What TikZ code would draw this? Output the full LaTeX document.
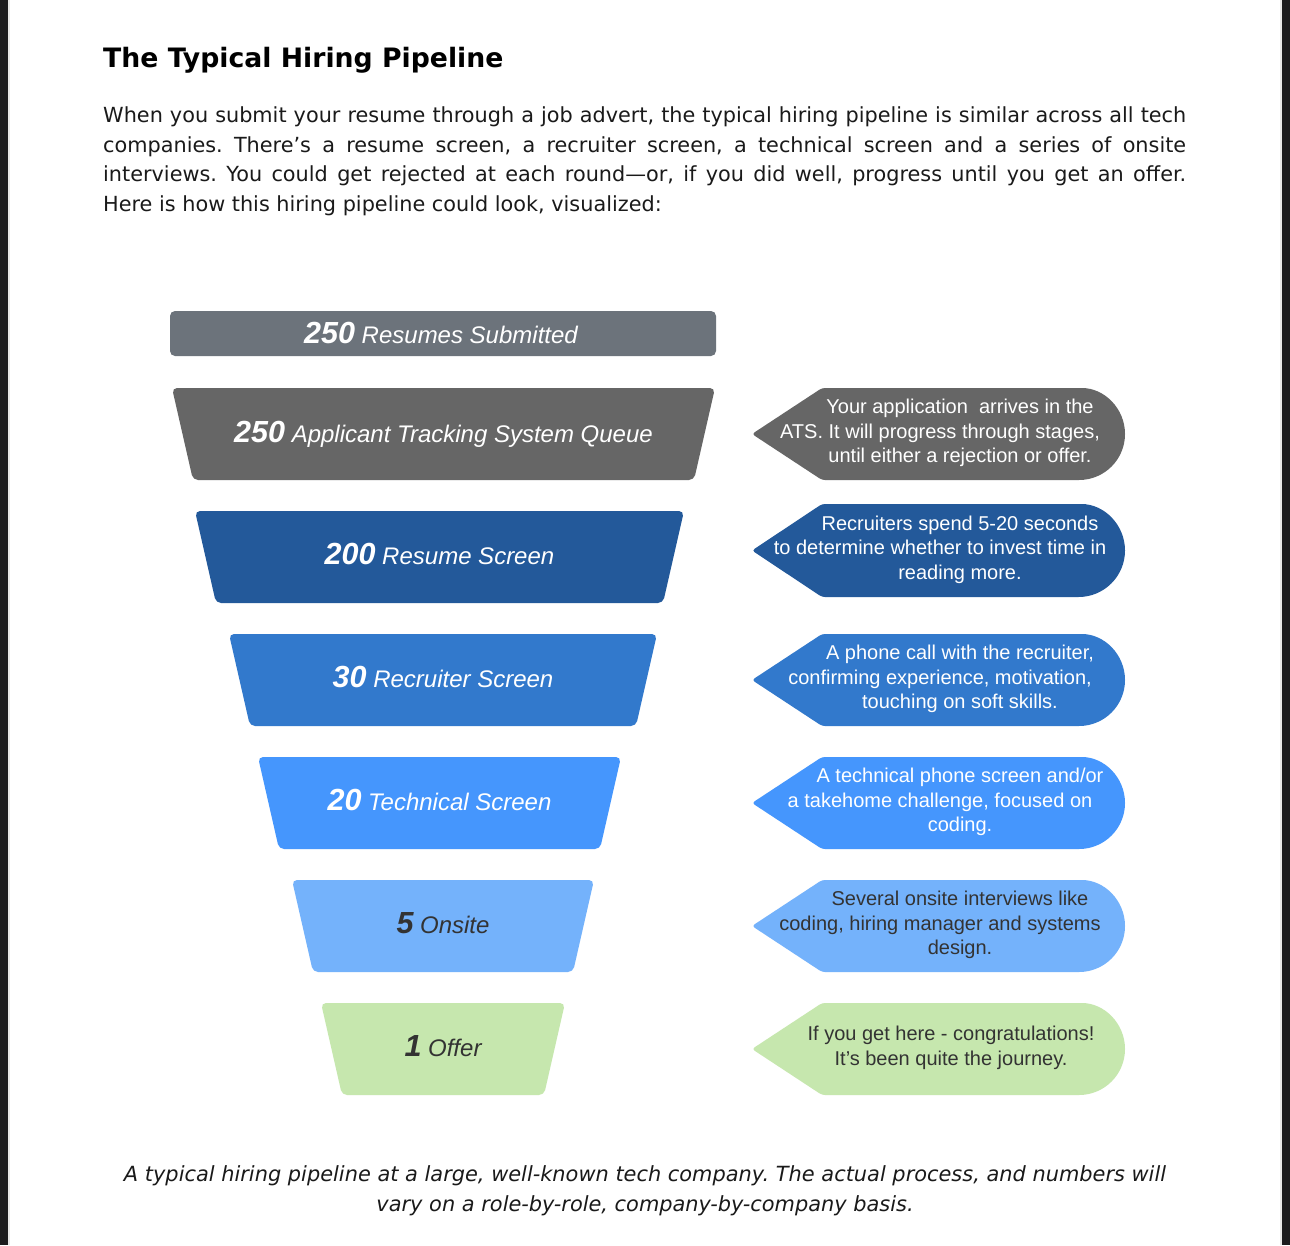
\documentclass[tikz,border=0pt]{standalone}
\usepackage{fontspec}
\setmainfont{Liberation Sans}
\newfontfamily\bodyfont{DejaVu Sans}
\definecolor{frame}{HTML}{1C1C1E}
\definecolor{frameedge}{HTML}{E8E8E8}
\definecolor{bodytext}{HTML}{1A1A1A}
\definecolor{slate}{HTML}{6C737B}
\definecolor{atsgray}{HTML}{666666}
\definecolor{resblue}{HTML}{23599A}
\definecolor{recblue}{HTML}{3279CC}
\definecolor{techblue}{HTML}{4596FD}
\definecolor{onsiteblue}{HTML}{74B2FB}
\definecolor{offergreen}{HTML}{C6E7AE}
\definecolor{darktext}{HTML}{333333}
\newcommand\stagenum[1]{{\fontsize{30.5}{30}\selectfont\bfseries #1}}
\newcommand\padline{\rule{40pt}{0pt}}
\newcommand\drawstage[4]{% style, top y, left x, right x
  \fill[stagebox,#1] (#3,#2) -- (#4,#2) -- (#4-21,#2+92) -- (#3+21,#2+92) -- cycle;}
\newcommand\drawcallout[3]{% style, top y, bottom y
  \pgfmathsetmacro\cT{#2}\pgfmathsetmacro\cB{#3}%
  \pgfmathsetmacro\cC{(#2+#3)/2}\pgfmathsetmacro\cR{(#3-#2)/2}%
  \pgfmathsetmacro\cX{1125-\cR}\pgfmathsetmacro\cK{0.5523*\cR}%
  \fill[#1] (\cX,\cT) .. controls (\cX+\cK,\cT) and (1125,\cC-\cK) .. (1125,\cC)
    .. controls (1125,\cC+\cK) and (\cX+\cK,\cB) .. (\cX,\cB)
    [rounded corners=3pt] -- (822,\cB) -- (752,\cC) -- (822,\cT) -- cycle;}
\begin{document}
\frenchspacing
\begin{tikzpicture}[x=1pt,y=-1pt,
  stagebox/.style={rounded corners=5pt},
  stagetext/.style={anchor=base, inner sep=0, font=\fontsize{24}{28}\selectfont\itshape},
  calltext/.style={align=center, inner sep=0, font=\fontsize{20}{24.5}\selectfont},
  bodyline/.style={anchor=base west, inner sep=0, text=bodytext, font=\bodyfont\fontsize{20.8}{29.6}\selectfont},
  capline/.style={anchor=base, inner sep=0, text=bodytext, font=\bodyfont\itshape\fontsize{20.9}{30}\selectfont}]
\useasboundingbox (0,0) rectangle (1290,1245);
\fill[white] (0,0) rectangle (1290,1245);
\fill[frame] (0,0) rectangle (8,1245);
\fill[frame] (1282,0) rectangle (1290,1245);
\fill[frameedge] (8,0) rectangle (10,1245);
\fill[frameedge] (1280,0) rectangle (1282,1245);

\node[anchor=base west, inner sep=0, font=\bodyfont\bfseries\fontsize{26.7}{32}\selectfont] (title) at (103,67) {The Typical Hiring Pipeline};
\node[bodyline] (intro1) at (103,122) {\makebox[1083pt][s]{When you submit your resume through a job advert, the typical hiring pipeline is similar across all tech}};
\node[bodyline] (intro2) at (103,152) {\makebox[1083pt][s]{companies. There’s a resume screen, a recruiter screen, a technical screen and a series of onsite}};
\node[bodyline] (intro3) at (103,181.5) {\makebox[1083pt][s]{interviews. You could get rejected at each round—or, if you did well, progress until you get an offer.}};
\node[bodyline] (intro4) at (103,211) {Here is how this hiring pipeline could look, visualized:};

% funnel
\fill[stagebox,slate] (170,311) rectangle (716,356);
\node[stagetext, text=white] (submitted) at (441,343) {\stagenum{250} Resumes Submitted};

\drawstage{atsgray}{388}{172}{715}
\node[stagetext, text=white] (ats) at (443.5,442) {\stagenum{250} Applicant Tracking System Queue};
\drawstage{resblue}{511}{195}{684}
\node[stagetext, text=white] (resume) at (439.5,564) {\stagenum{200} Resume Screen};
\drawstage{recblue}{634}{229}{657}
\node[stagetext, text=white] (recruiter) at (443,687) {\stagenum{30} Recruiter Screen};
\drawstage{techblue}{757}{258}{621}
\node[stagetext, text=white] (technical) at (439.5,810) {\stagenum{20} Technical Screen};
\drawstage{onsiteblue}{880}{292}{594}
\node[stagetext, text=darktext] (onsite) at (443,933) {\stagenum{5} Onsite};
\drawstage{offergreen}{1003}{321}{565}
\node[stagetext, text=darktext] (offer) at (443,1056) {\stagenum{1} Offer};

% callouts
\drawcallout{atsgray}{388}{480}
\node[calltext, text=white] (atsnote) at (960,433) {Your application\ \ arrives in the\\ ATS. It will progress through stages,\padline\\ until either a rejection or offer.};
\drawcallout{resblue}{504}{597}
\node[calltext, text=white] (resumenote) at (960,549.5) {Recruiters spend 5-20 seconds\\ to determine whether to invest time in\padline\\ reading more.};
\drawcallout{recblue}{634}{726}
\node[calltext, text=white] (recruiternote) at (960,679) {A phone call with the recruiter,\\ confirming experience, motivation,\padline\\ touching on soft skills.};
\drawcallout{techblue}{757}{849}
\node[calltext, text=white] (technicalnote) at (960,802) {A technical phone screen and/or\\ a takehome challenge, focused on\padline\\ coding.};
\drawcallout{onsiteblue}{880}{972}
\node[calltext, text=darktext] (onsitenote) at (960,925) {Several onsite interviews like\\ coding, hiring manager and systems\padline\\ design.};
\drawcallout{offergreen}{1003}{1095}
\node[calltext, text=darktext] (offernote) at (951,1048) {If you get here - congratulations!\\ It's been quite the journey.};

% caption
\node[capline] (caption1) at (645,1181) {A typical hiring pipeline at a large, well-known tech company. The actual process, and numbers will};
\node[capline] (caption2) at (645,1211) {vary on a role-by-role, company-by-company basis.};
\end{tikzpicture}
\end{document}
